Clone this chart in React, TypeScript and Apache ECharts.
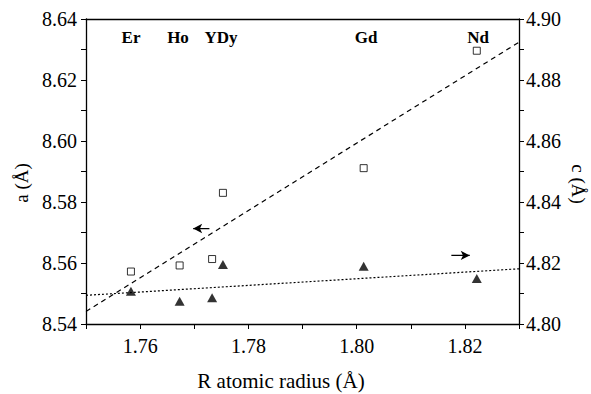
import React, { useEffect, useRef } from "react";
import * as echarts from "echarts";

const elements = ["Er", "Ho", "Y", "Dy", "Gd", "Nd"];
const radius = [1.7583, 1.7673, 1.7733, 1.7753, 1.8013, 1.8222];
const aValues = [8.5572, 8.5592, 8.5613, 8.583, 8.5911, 8.6296];
const cValues = [4.8107, 4.8075, 4.8086, 4.8195, 4.8189, 4.8149];
const aFit = [[1.75, 8.5441], [1.83, 8.6324]];
const cFit = [[1.75, 4.8094], [1.83, 4.8181]];
const leftArrow = [[1.7698, 8.5713], [1.7728, 8.5713]];
const rightArrow = [[1.8209, 4.8225], [1.8175, 4.8225]];
const xTickLabels = ["1.76", "1.78", "1.80", "1.82"];
const topLabels = [
  { text: "Er", x: 131 },
  { text: "Ho", x: 178 },
  { text: "YDy", x: 221 },
  { text: "Gd", x: 366 },
  { text: "Nd", x: 478 },
];

const FONT = "Times New Roman, Liberation Serif, DejaVu Serif, serif";

export default function App() {
  const ref = useRef<HTMLDivElement>(null);
  useEffect(() => {
    if (!ref.current) return;
    document.body.style.margin = "0";
    const chart = echarts.init(ref.current, null, { renderer: "svg" });
    const axisLine = { show: true, lineStyle: { color: "#000", width: 1.3 } };
    const axisTick = { show: true, inside: false, length: 5, lineStyle: { color: "#000", width: 1 } };
    const minorTick = { show: true, splitNumber: 2, length: 5, lineStyle: { color: "#000", width: 1 } };
    const labelBase = { color: "#000", fontFamily: FONT, fontSize: 20, fontWeight: "normal" };
    const arrowSeries = (data: number[][], yAxisIndex: number, rot: number) => ({
      type: "line",
      xAxisIndex: 0,
      yAxisIndex,
      data: [
        { value: data[0], symbol: "arrow", symbolSize: [7, 9], symbolRotate: rot },
        { value: data[1], symbol: "none" },
      ],
      showSymbol: true,
      itemStyle: { color: "#000" },
      lineStyle: { color: "#000", width: 1.3 },
      silent: true,
    });
    const titleText = (text: string, x: number, y: number, rotation: number, size: number) => ({
      type: "text",
      x,
      y,
      rotation,
      style: {
        text,
        fill: "#000",
        fontFamily: FONT,
        fontSize: size,
        align: "center",
        verticalAlign: "middle",
      },
    });
    chart.setOption({
      animation: false,
      backgroundColor: "#fff",
      textStyle: { fontFamily: FONT, color: "#000" },
      grid: { left: 86, right: 72, top: 19, bottom: 70 },
      xAxis: [
        {
          type: "value",
          min: 1.75,
          max: 1.83,
          interval: 0.01,
          axisLine,
          axisTick,
          splitLine: { show: false },
          axisLabel: {
            ...labelBase,
            margin: 12,
            formatter: (v: number) => {
              const s = v.toFixed(2);
              return xTickLabels.includes(s) ? s : "";
            },
          },
        },
        {
          type: "value",
          position: "top",
          min: 1.75,
          max: 1.83,
          axisLine,
          axisTick: { show: false },
          axisLabel: { show: false },
          splitLine: { show: false },
        },
      ],
      yAxis: [
        {
          type: "value",
          min: 8.54,
          max: 8.64,
          interval: 0.02,
          axisLine,
          axisTick,
          minorTick,
          splitLine: { show: false },
          axisLabel: { ...labelBase, margin: 9, formatter: (v: number) => v.toFixed(2) },
        },
        {
          type: "value",
          position: "right",
          min: 4.8,
          max: 4.9,
          interval: 0.02,
          axisLine,
          axisTick,
          minorTick,
          splitLine: { show: false },
          axisLabel: { ...labelBase, margin: 7, formatter: (v: number) => v.toFixed(2) },
        },
      ],
      series: [
        {
          type: "line",
          xAxisIndex: 0,
          yAxisIndex: 0,
          data: aFit,
          symbol: "none",
          lineStyle: { color: "#000", width: 1.2, type: [5, 4] },
          silent: true,
        },
        {
          type: "line",
          xAxisIndex: 0,
          yAxisIndex: 1,
          data: cFit,
          symbol: "none",
          lineStyle: { color: "#000", width: 1.2, type: [2, 2] },
          silent: true,
        },
        {
          type: "scatter",
          name: "a",
          xAxisIndex: 0,
          yAxisIndex: 0,
          symbol: "rect",
          symbolSize: 7,
          itemStyle: { color: "#fff", borderColor: "#000", borderWidth: 1 },
          data: radius.map((r, i) => [r, aValues[i], elements[i]]),
        },
        {
          type: "scatter",
          name: "c",
          xAxisIndex: 0,
          yAxisIndex: 1,
          symbol: "triangle",
          symbolSize: [10, 9],
          itemStyle: { color: "#000" },
          data: radius.map((r, i) => [r, cValues[i], elements[i]]),
        },
        arrowSeries(leftArrow, 0, 90),
        arrowSeries(rightArrow, 1, -90),
      ],
      graphic: [
        ...topLabels.map((l) => ({
          type: "text",
          x: l.x,
          y: 37,
          style: {
            text: l.text,
            fill: "#000",
            fontFamily: FONT,
            fontSize: 17,
            fontWeight: "bold",
            align: "center",
            verticalAlign: "middle",
          },
        })),
        titleText("R atomic radius (Å)", 281, 381, 0, 21),
        titleText("a (Å)", 21, 183, Math.PI / 2, 19),
        titleText("c (Å)", 578, 184, -Math.PI / 2, 19),
      ],
    });
    return () => chart.dispose();
  }, []);
  return <div ref={ref} style={{ width: 591, height: 394 }} />;
}
